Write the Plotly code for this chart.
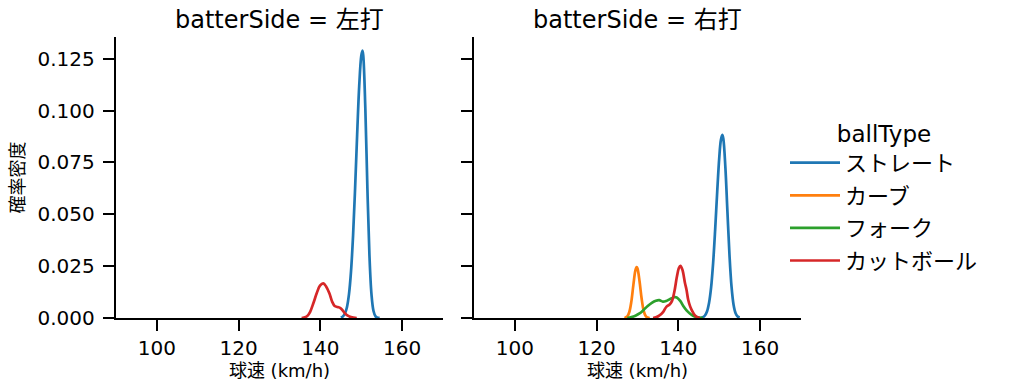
import plotly.graph_objects as go

# ---------------- data ----------------
series_names = ["ストレート", "カーブ", "フォーク", "カットボール"]
series_colors = ["#1f77b4", "#ff7f0e", "#2ca02c", "#d62728"]
facet_titles = ["batterSide = 左打", "batterSide = 右打"]

x_ticks = [100, 120, 140, 160]
y_ticks = [0.0, 0.025, 0.05, 0.075, 0.1, 0.125]

# 左打 : ストレート
left_straight_x = [145.0, 145.5, 146.0, 146.5, 147.0, 147.5, 148.0, 148.5, 149.0, 149.5, 150.0, 150.3,
                   150.5, 151.0, 151.5, 152.0, 152.5, 153.0, 153.5, 154.0, 154.5]
left_straight_y = [0.00025, 0.00077, 0.00212, 0.00521, 0.01147, 0.02259, 0.03982, 0.0628, 0.0886, 0.1119,
                   0.1264, 0.129, 0.1264, 0.1010, 0.0628, 0.0304, 0.01147, 0.00337, 0.00077, 0.00014, 0.00002]
# 左打 : カットボール
left_cut_x = [135.4, 136.0, 136.8, 137.5, 138.3, 139.1, 139.9, 140.7, 141.4, 142.2, 142.9, 143.5,
              144.2, 144.9, 145.5, 146.0, 146.7, 147.5, 148.9]
left_cut_y = [0.0, 0.0002, 0.0010, 0.0030, 0.0072, 0.0119, 0.0156, 0.0167, 0.0152, 0.0119, 0.0078, 0.0058,
              0.0053, 0.0048, 0.0035, 0.0023, 0.0011, 0.0004, 0.0]

# 右打 : ストレート
right_straight_x = [145.5, 146.0, 146.5, 147.0, 147.5, 148.0, 148.5, 149.0, 149.5, 150.0, 150.4, 150.75,
                    151.0, 151.5, 152.0, 152.5, 153.0, 153.5, 154.0, 154.5, 155.0]
right_straight_y = [0.00013, 0.00041, 0.0012, 0.0031, 0.0072, 0.0146, 0.0265, 0.0426, 0.0609, 0.0772,
                    0.0858, 0.0883, 0.0864, 0.0726, 0.0513, 0.0305, 0.0152, 0.0064, 0.0023, 0.0007, 0.0002]
# 右打 : カーブ
right_curve_x = [126.8, 127.0, 127.5, 128.0, 128.5, 129.0, 129.5, 129.8, 130.0, 130.5, 131.0, 131.5,
                 132.0, 132.5, 133.0]
right_curve_y = [0.0, 0.00014, 0.00074, 0.0029, 0.0080, 0.0161, 0.0231, 0.0245, 0.0239, 0.0177, 0.0095,
                 0.0036, 0.0010, 0.0002, 0.0]
# 右打 : フォーク
right_fork_x = [127.5, 128.5, 129.5, 130.5, 131.5, 132.5, 133.5, 134.5, 135.3, 136.2, 137.0, 138.0,
                139.0, 139.6, 140.5, 141.2, 142.0, 142.8, 143.5, 144.5, 146.0]
right_fork_y = [0.0, 0.0004, 0.0011, 0.0022, 0.0039, 0.0058, 0.0073, 0.0083, 0.0086, 0.0079, 0.0082, 0.0092,
                0.0100, 0.0099, 0.0081, 0.0058, 0.0037, 0.0022, 0.0012, 0.0004, 0.0]
# 右打 : カットボール
right_cut_x = [133.8, 134.5, 135.3, 136.3, 137.1, 137.8, 138.4, 139.0, 139.6, 140.1, 140.5, 141.0,
               141.6, 142.0, 142.4, 142.9, 143.3, 144.0, 144.6, 145.3]
right_cut_y = [0.0, 0.0003, 0.0011, 0.0030, 0.0055, 0.0064, 0.0080, 0.0125, 0.0195, 0.0240, 0.0252, 0.0232,
               0.0170, 0.0135, 0.0088, 0.0055, 0.0037, 0.0014, 0.0004, 0.0]

# ---------------- figure ----------------
FONT = "DejaVu Sans, Noto Sans CJK JP, sans-serif"
W, H = 1012, 391

fig = go.Figure()

right_panel = [
    (0, right_straight_x, right_straight_y),
    (1, right_curve_x, right_curve_y),
    (2, right_fork_x, right_fork_y),
    (3, right_cut_x, right_cut_y),
]
left_panel = [
    (0, left_straight_x, left_straight_y),
    (3, left_cut_x, left_cut_y),
]

for i, xs, ys in right_panel:
    fig.add_trace(go.Scatter(
        x=xs, y=ys, mode="lines", name=series_names[i], legendgroup=series_names[i],
        legendrank=i + 1, showlegend=True,
        line=dict(color=series_colors[i], width=2.7, shape="spline", smoothing=1.0),
        xaxis="x2", yaxis="y2"))

for i, xs, ys in left_panel:
    fig.add_trace(go.Scatter(
        x=xs, y=ys, mode="lines", name=series_names[i], legendgroup=series_names[i],
        showlegend=False,
        line=dict(color=series_colors[i], width=2.7, shape="spline", smoothing=1.0),
        xaxis="x", yaxis="y"))

axis_common = dict(
    showgrid=False, zeroline=False, showline=True, linecolor="black", linewidth=2.4,
    ticks="outside", ticklen=11, tickwidth=2.4, tickcolor="black", automargin=False,
    tickfont=dict(family=FONT, size=20, color="black"),
)

ydom = [(H - 318) / H, (H - 37) / H]
xtitle = dict(text="球速 (km/h)", font=dict(family=FONT, size=18), standoff=4)

fig.update_layout(
    width=W, height=H,
    margin=dict(l=0, r=0, t=0, b=0),
    paper_bgcolor="white", plot_bgcolor="white",
    font=dict(family=FONT, color="black"),
    xaxis=dict(domain=[116 / W, 443 / W], range=[90, 170], tickvals=x_ticks, anchor="y",
               title=xtitle, **axis_common),
    yaxis=dict(domain=ydom, range=[0, 0.1355], tickvals=y_ticks, tickformat=".3f", anchor="x",
               ticklabelstandoff=4,
               title=dict(text="確率密度", font=dict(family=FONT, size=18), standoff=8),
               **axis_common),
    xaxis2=dict(domain=[474 / W, 801 / W], range=[90, 170], tickvals=x_ticks, anchor="y2",
                title=xtitle, **axis_common),
    yaxis2=dict(domain=ydom, range=[0, 0.1355], tickvals=y_ticks, anchor="x2",
                showticklabels=False, matches="y", **axis_common),
    legend=dict(
        x=785 / W, y=(H - 112) / H, xanchor="left", yanchor="top",
        title=dict(text="ballType", side="top center", font=dict(family=FONT, size=23)),
        font=dict(family=FONT, size=22), tracegroupgap=1, itemwidth=50,
        bgcolor="rgba(0,0,0,0)",
    ),
    showlegend=True,
)

for k, t in enumerate(facet_titles):
    dom = fig.layout.xaxis.domain if k == 0 else fig.layout.xaxis2.domain
    fig.add_annotation(
        text=t, x=(dom[0] + dom[1]) / 2, y=(H - 20) / H, xref="paper", yref="paper",
        xanchor="center", yanchor="middle", showarrow=False,
        font=dict(family=FONT, size=24, color="black"))

fig.write_html("out.html")
